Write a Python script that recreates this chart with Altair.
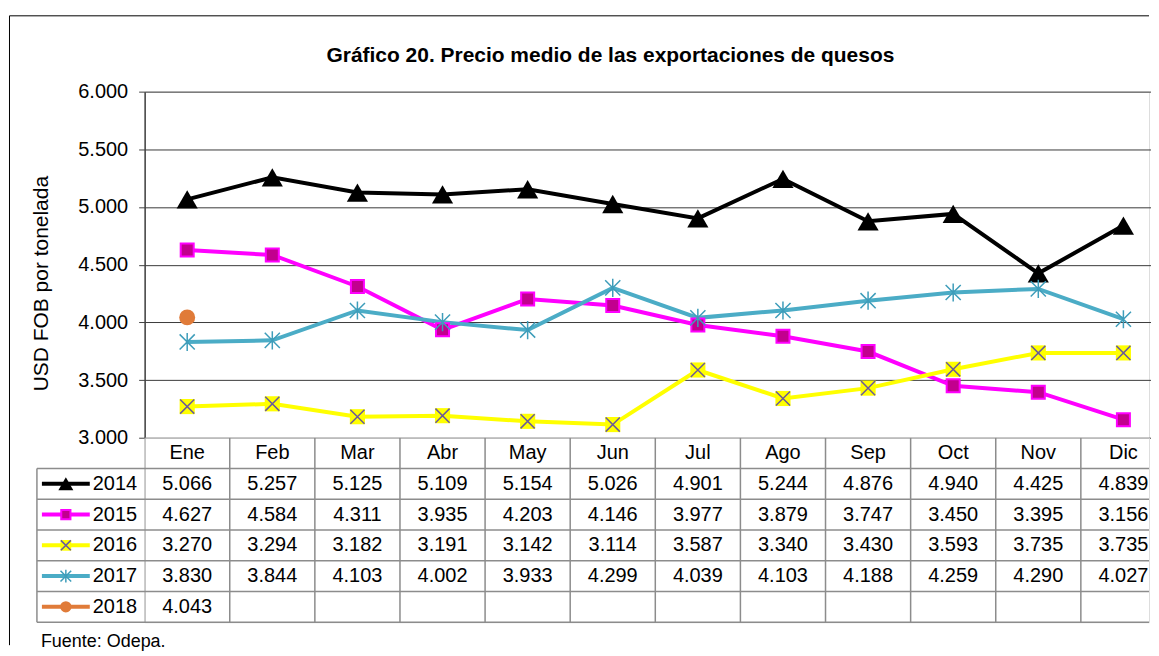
import altair as alt
import pandas as pd

months = ["Ene", "Feb", "Mar", "Abr", "May", "Jun", "Jul", "Ago", "Sep", "Oct", "Nov", "Dic"]
years = ["2014", "2015", "2016", "2017", "2018"]
v2014 = [5066, 5257, 5125, 5109, 5154, 5026, 4901, 5244, 4876, 4940, 4425, 4839]
v2015 = [4627, 4584, 4311, 3935, 4203, 4146, 3977, 3879, 3747, 3450, 3395, 3156]
v2016 = [3270, 3294, 3182, 3191, 3142, 3114, 3587, 3340, 3430, 3593, 3735, 3735]
v2017 = [3830, 3844, 4103, 4002, 3933, 4299, 4039, 4103, 4188, 4259, 4290, 4027]
v2018 = [4043]
colors = ["#000000", "#FF00FF", "#FFFF00", "#4BACC6", "#E07B39"]
y_ticks = [3000, 3500, 4000, 4500, 5000, 5500, 6000]
title_text = "Gráfico 20. Precio medio de las exportaciones de quesos"
y_title = "USD FOB por  tonelada"
source_text = "Fuente: Odepa."

FONT = "Liberation Sans"
W = 1007        # visible plot width (the reference's plot runs past the window edge)
XR = 1024       # full width of the 12 month columns
H = 347
TH = 185

series = {"2014": v2014, "2015": v2015, "2016": v2016, "2017": v2017, "2018": v2018}
rows = []
for yr, vals in series.items():
    for m, v in zip(months, vals):
        rows.append({"year": yr, "row": yr, "month": m, "value": v,
                     "text": f"{v:,}".replace(",", ".")})
df = pd.DataFrame(rows)
hdr = pd.DataFrame({"row": ["hdr"] * len(months), "month": months, "text": months})
cells = pd.concat([hdr, df[["row", "month", "text"]]], ignore_index=True)
leg = pd.DataFrame({"year": years, "row": years})

xs = alt.Scale(type="band", domain=months, paddingInner=0, paddingOuter=0, range=[0, XR])
cs = alt.Scale(domain=years, range=colors)


def xenc(bp):
    return alt.X("month:N", scale=xs, axis=None, bandPosition=bp)


yenc = alt.Y(
    "value:Q",
    scale=alt.Scale(domain=[3000, 6000], nice=False, zero=False),
    axis=alt.Axis(
        values=y_ticks,
        labelExpr="replace(format(datum.value, ',.0f'), ',', '.')",
        grid=True, gridColor="#3a3a3a", gridWidth=1,
        domainColor="#404040", domainWidth=1.5,
        tickColor="#404040", tickSize=6, tickWidth=1,
        labelFontSize=20, labelColor="#000", labelPadding=11, labelFont=FONT,
        title=y_title, titleFontSize=21, titleFontWeight="normal", titleColor="#000",
        titleFont=FONT, titleX=-103, titleY=192, titleAngle=270,
        titleAlign="center", titleBaseline="middle",
    ),
)


def markers(data, xe, ye, k=1.0):
    layers = []
    b = alt.Chart(data)
    layers.append(b.transform_filter("datum.year == '2014'").mark_point(
        shape="triangle-up", filled=True, size=450 * k, color="#000", opacity=1).encode(x=xe, y=ye))
    layers.append(b.transform_filter("datum.year == '2015'").mark_point(
        shape="square", filled=True, size=170 * k, fill="#C2008E", stroke="#FF00FF",
        strokeWidth=2, opacity=1).encode(x=xe, y=ye))
    layers.append(b.transform_filter("datum.year == '2016'").mark_point(
        shape="square", filled=True, size=230 * k, color="#FFFF00", opacity=1).encode(x=xe, y=ye))
    layers.append(b.transform_filter("datum.year == '2016'").mark_point(
        shape="M-1,-1L1,1M1,-1L-1,1", filled=False, size=200 * k, stroke="#6A5A9A",
        strokeWidth=1.5, opacity=1).encode(x=xe, y=ye))
    layers.append(b.transform_filter("datum.year == '2017'").mark_point(
        shape="M-1,-1L1,1M1,-1L-1,1M0,-1.2L0,1.2", filled=False, size=230 * k, stroke="#3E9DBA",
        strokeWidth=1.5, opacity=1).encode(x=xe, y=ye))
    layers.append(b.transform_filter("datum.year == '2018'").mark_point(
        shape="circle", filled=True, size=256 * k, color="#E07B39", opacity=1).encode(x=xe, y=ye))
    return layers


one = pd.DataFrame({"a": [0]})
frame_top = alt.Chart(one).mark_rule(color="#000", strokeWidth=1).encode(
    x=alt.value(-135.5), x2=alt.value(W), y=alt.value(-76))
frame_left = alt.Chart(one).mark_rule(color="#000", strokeWidth=1).encode(
    x=alt.value(-135.5), y=alt.value(-76), y2=alt.value(555))

title = alt.Chart(pd.DataFrame({"t": [title_text]})).mark_text(
    font=FONT, fontSize=21, fontWeight="bold", align="center", baseline="alphabetic",
    color="#000").encode(text="t:N", x=alt.value(467), y=alt.value(-30))

lines = alt.Chart(df).mark_line(strokeWidth=4).encode(
    x=xenc(0.5), y=yenc,
    color=alt.Color("year:N", scale=cs, legend=None), detail="year:N")

top = alt.layer(frame_top, frame_left, title, lines,
                *markers(df, xenc(0.5), yenc)).properties(width=W, height=H)

# ---- data table ----
ys = alt.Scale(type="band", domain=["hdr"] + years, paddingInner=0, paddingOuter=0)


def yrow(bp):
    return alt.Y("row:N", scale=ys, axis=None, bandPosition=bp)


GRID = "#8c8c8c"
vlines = alt.Chart(pd.DataFrame({"month": months})).mark_rule(
    color=GRID, strokeWidth=1.5, clip=True).encode(
    x=xenc(0), y=alt.value(0), y2=alt.value(TH))
hlines = alt.Chart(leg).mark_rule(color=GRID, strokeWidth=1.5).encode(
    y=yrow(0), x=alt.value(-108), x2=alt.value(W))
bottom = alt.Chart(one).mark_rule(color=GRID, strokeWidth=1.5).encode(
    y=alt.value(TH), x=alt.value(-108), x2=alt.value(W))
leftb = alt.Chart(one).mark_rule(color=GRID, strokeWidth=1.5).encode(
    x=alt.value(-108), y=alt.value(TH / 6), y2=alt.value(TH))
celltext = alt.Chart(cells).mark_text(font=FONT, fontSize=20, color="#000", baseline="middle").encode(
    x=xenc(0.5), y=yrow(0.5), text="text:N")
swatch = alt.Chart(leg).mark_rule(strokeWidth=4).encode(
    y=yrow(0.5), x=alt.value(-103), x2=alt.value(-55),
    color=alt.Color("year:N", scale=cs, legend=None))
leglab = alt.Chart(leg).mark_text(font=FONT, fontSize=20, color="#000", align="left",
                                  baseline="middle").encode(
    y=yrow(0.5), x=alt.value(-52), text="year:N")
src = alt.Chart(pd.DataFrame({"t": [source_text]})).mark_text(
    font=FONT, fontSize=18, color="#000", align="left", baseline="middle").encode(
    text="t:N", x=alt.value(-104), y=alt.value(205))

table = alt.layer(vlines, hlines, bottom, leftb, celltext, swatch,
                  *markers(leg, alt.value(-79), yrow(0.5), 0.5), leglab, src).properties(width=W, height=TH)

chart = alt.vconcat(top, table, spacing=0, bounds="flush").resolve_scale(
    y="independent").properties(
    padding={"left": 0, "top": 6, "right": 0, "bottom": 0}
).configure_view(stroke=None).configure(font=FONT)

chart.save("out.html", embed_options={"renderer": "svg", "actions": False})
